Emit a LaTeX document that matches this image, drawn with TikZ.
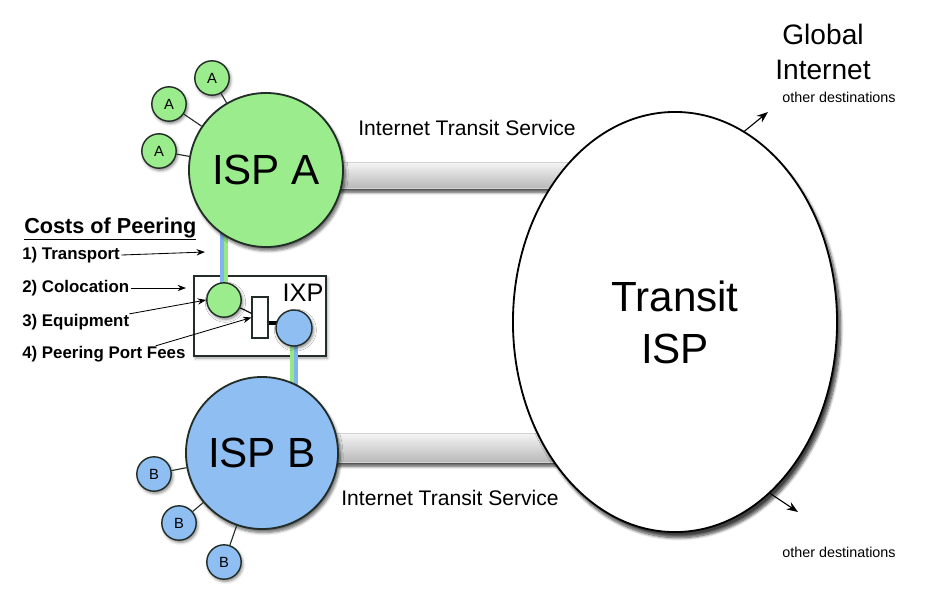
\documentclass[tikz,border=0pt]{standalone}
\usepackage{fontspec}
\setmainfont{Liberation Sans}
\usetikzlibrary{positioning,calc,shapes.geometric,shadows.blur,backgrounds,arrows.meta}
\definecolor{ispgreen}{RGB}{154,236,140}
\definecolor{ispblue}{RGB}{142,190,242}
\definecolor{linkgreen}{RGB}{150,232,130}
\definecolor{linkblue}{RGB}{128,180,240}
\definecolor{rim}{RGB}{35,45,40}

\begin{document}
\begin{tikzpicture}[x=0.025cm,y=-0.025cm,
		ispnode/.style={circle,draw=rim,line width=1.3pt,inner sep=0pt,font=\fontsize{30}{36}\selectfont,blur shadow={shadow blur steps=6,shadow xshift=1.5pt,shadow yshift=-2.5pt,shadow opacity=60}},
		custnode/.style={circle,draw=rim,line width=1pt,inner sep=0pt,minimum size=0.86cm,font=\fontsize{10.5}{12}\selectfont,blur shadow={shadow blur steps=4,shadow xshift=1pt,shadow yshift=-1.5pt,shadow opacity=50}},
		costlabel/.style={anchor=west,inner sep=0pt,font=\bfseries\fontsize{12}{14}\selectfont},
		svclabel/.style={inner sep=0pt,font=\fontsize{15}{18}\selectfont},
		destlabel/.style={inner sep=0pt,font=\fontsize{10.2}{12}\selectfont},
		pipe/.style={top color=gray!8,bottom color=gray!55,draw=gray!35,line width=0.4pt,blur shadow={shadow blur steps=4,shadow xshift=0pt,shadow yshift=-3pt,shadow opacity=70}},
		spoke/.style={draw=rim,line width=0.8pt},
		peerlink/.style={line width=3pt},
		costarrow/.style={-{Stealth[length=6pt,width=4.5pt]},line width=0.6pt},
		outarrow/.style={-{Stealth[length=8pt,width=6pt]},line width=0.8pt}]
	\useasboundingbox (0,0) rectangle (939,601);

	\node[ispnode,fill=ispgreen,minimum size=3.85cm] (ispA) at (266,170) {ISP A};
	\node[ispnode,fill=ispblue,minimum size=3.8cm] (ispB) at (262,453) {ISP B};
	\node[ellipse,draw=black,fill=white,line width=1.3pt,minimum width=8.1cm,minimum height=10.5cm,align=center,font=\fontsize{30}{37}\selectfont,blur shadow={shadow blur steps=8,shadow xshift=2.5pt,shadow yshift=-4pt,shadow opacity=75}] (transit) at (675,322) {Transit\\ISP};

	\node[custnode,fill=ispgreen] (a1) at (212,78) {A};
	\node[custnode,fill=ispgreen] (a2) at (169,104) {A};
	\node[custnode,fill=ispgreen] (a3) at (159,151) {A};
	\node[custnode,fill=ispblue] (b1) at (154,474) {B};
	\node[custnode,fill=ispblue] (b2) at (179,523) {B};
	\node[custnode,fill=ispblue] (b3) at (224,562) {B};
	\foreach \c in {a1,a2,a3} \draw[spoke] (\c) -- (ispA);
	\foreach \c in {b1,b2,b3} \draw[spoke] (\c) -- (ispB);

	\node[custnode,fill=ispgreen] (ixpA) at (224,300) {};
	\node[draw=rim,fill=white,line width=0.8pt,minimum width=0.4cm,minimum height=1.025cm,inner sep=0pt] (port) at (260,317.5) {};
	\draw[line width=0.8pt] (ixpA) -- (port);
	\draw[line width=2.5pt] ([yshift=-0.14cm]port.east) -- +(0.4cm,0);
	\node[custnode,fill=ispblue,minimum size=0.9cm] (ixpB) at (294,328) {};
	\node[inner sep=0pt,font=\fontsize{18}{20}\selectfont] (ixplabel) at (303,293) {IXP};

	\begin{scope}[on background layer]
		\shade[pipe] ($(ispA.center)+(0,-8)$) rectangle ($(transit.center |- ispA.center)+(0,18)$);
		\shade[pipe] ($(ispB.center)+(0,-20)$) rectangle ($(transit.center |- ispB.center)+(0,9)$);
		\node[draw=rim,fill=white,line width=0.8pt,minimum width=3.3cm,minimum height=2cm,blur shadow={shadow blur steps=4,shadow xshift=1pt,shadow yshift=-1.5pt,shadow opacity=40}] (ixp) at (260,316) {};
		\begin{scope}[transform canvas={xshift=-1.5pt}]
			\draw[peerlink,linkblue] (ixpA.center) -- (ixpA.center |- ispA.center);
			\draw[peerlink,linkgreen] (ixpB.center) -- (ixpB.center |- ispB.center);
		\end{scope}
		\begin{scope}[transform canvas={xshift=1.5pt}]
			\draw[peerlink,linkgreen] (ixpA.center) -- (ixpA.center |- ispA.center);
			\draw[peerlink,linkblue] (ixpB.center) -- (ixpB.center |- ispB.center);
		\end{scope}
	\end{scope}

	\node[svclabel] (svcA) at (467,128) {Internet Transit Service};
	\node[svclabel] (svcB) at (450,498) {Internet Transit Service};

	\node[anchor=west,inner sep=0pt,font=\bfseries\fontsize{15.4}{18}\selectfont] (costs) at (24,229) {\underline{Costs of Peering}};
	\node[costlabel] (c1) at (22,255) {1) Transport};
	\node[costlabel] (c2) at (22,288) {2) Colocation};
	\node[costlabel] (c3) at (22,322) {3) Equipment};
	\node[costlabel] (c4) at (22,354) {4) Peering Port Fees};
	\coordinate (t1) at (205,252);
	\coordinate (t2) at (186,288);
	\draw[costarrow] ([xshift=1pt]c1.east) -- (t1);
	\draw[costarrow] ([xshift=1pt]c2.east) -- (t2);
	\draw[costarrow] (c3.north east) -- (ixpA.west);
	\draw[costarrow] ([xshift=-0.75cm]c4.north east) -- (port.west);

	\node[align=center,inner sep=0pt,font=\fontsize{20}{25}\selectfont] (global) at (823,52) {Global\\Internet};
	\node[destlabel] (dest1) at (839,97) {other destinations};
	\node[destlabel] (dest2) at (839,552) {other destinations};
	\coordinate (out1) at (768,112);
	\coordinate (out2) at (798,512);
	\draw[outarrow] (transit.70) -- (out1);
	\draw[outarrow] (transit.-61) -- (out2);
\end{tikzpicture}
\end{document}
